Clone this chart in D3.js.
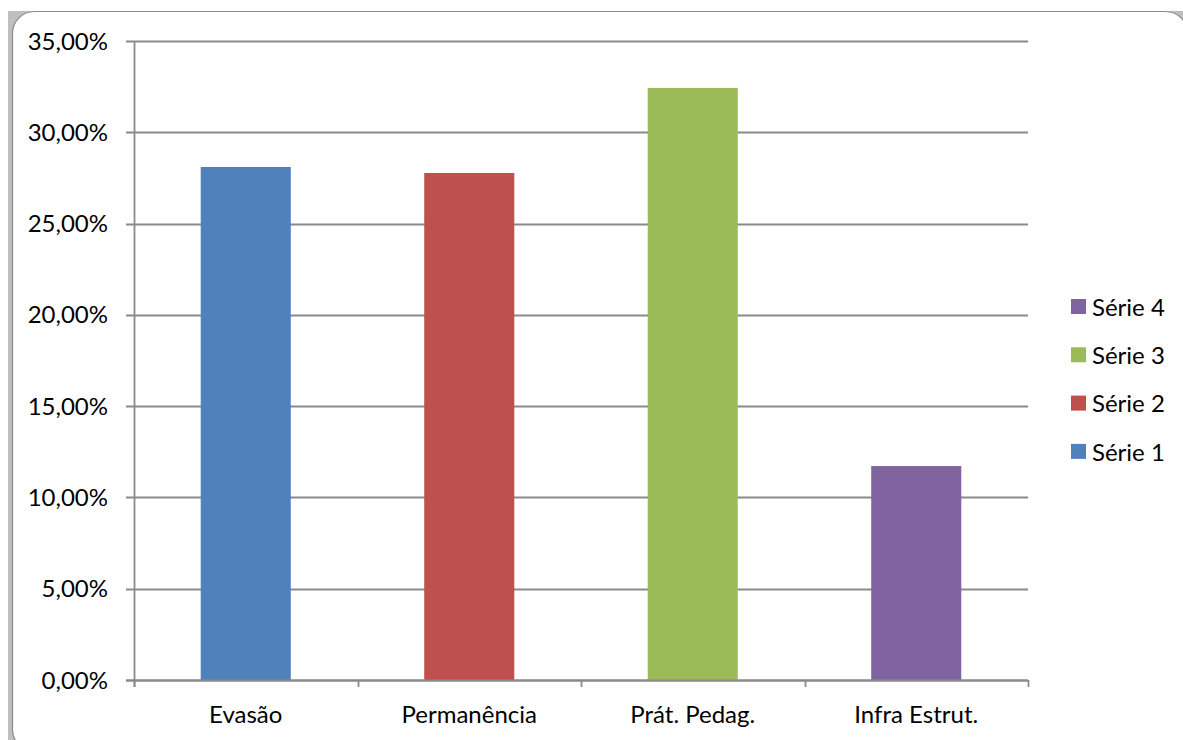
<!DOCTYPE html>
<html>
<head>
<meta charset="utf-8">
<script src="https://cdn.jsdelivr.net/npm/d3@7"></script>
<style>
  html, body { margin: 0; padding: 0; background: #ffffff; }
  svg { display: block; }
  text { font-family: Lato, "Open Sans", sans-serif; fill: #000; }
</style>
</head>
<body>
<svg id="chart" width="1183" height="740"></svg>
<script>
const categories = ["Evasão", "Permanência", "Prát. Pedag.", "Infra Estrut."];
const seriesNames = ["Série 1", "Série 2", "Série 3", "Série 4"];
const values = [0.281, 0.2777, 0.3243, 0.1172];
const colors = ["#4F81BD", "#C0504D", "#9BBB59", "#8064A2"];
const yTicks = [0, 0.05, 0.10, 0.15, 0.20, 0.25, 0.30, 0.35];

(function () {
const svg = d3.select("#chart");
const fs = 24;

// frame
svg.append("rect").attr("x", 8).attr("y", 11).attr("width", 1190).attr("height", 760).attr("fill", "#bfbfbf");
svg.append("rect").attr("x", 12.5).attr("y", 11.5).attr("width", 1175).attr("height", 740)
  .attr("rx", 22).attr("ry", 22).attr("fill", "#ffffff").attr("stroke", "#8c8c8c").attr("stroke-width", 1.2);

const pLeft = 134, pRight = 1028, pTop = 41, pBottom = 680;

const y = d3.scaleLinear().domain([0, 0.35]).range([pBottom, pTop]);
const x = d3.scaleBand().domain(categories).range([pLeft, pRight]).paddingInner(0.597).paddingOuter(0.2985);
const xb = d3.scaleLinear().domain([0, categories.length]).range([pLeft, pRight]);

const fmt = v => d3.format(".2f")(v * 100).replace(".", ",") + "%";

// gridlines + y ticks
svg.append("g").selectAll("line").data(yTicks).join("line")
  .attr("x1", pLeft - 8).attr("x2", pRight)
  .attr("y1", d => Math.round(y(d)) + 0.5).attr("y2", d => Math.round(y(d)) + 0.5)
  .attr("stroke", "#8a8a8a").attr("stroke-width", 1.8);

svg.append("g").selectAll("text").data(yTicks).join("text")
  .attr("x", 108).attr("y", d => y(d)).attr("dy", "0.36em")
  .attr("text-anchor", "end").attr("font-size", fs).text(fmt);

// bars
svg.append("g").selectAll("rect").data(values).join("rect")
  .attr("x", (d, i) => x(categories[i])).attr("width", x.bandwidth())
  .attr("y", d => y(d)).attr("height", d => y(0) - y(d))
  .attr("fill", (d, i) => colors[i]);

// y axis line
svg.append("line").attr("x1", pLeft + 0.5).attr("x2", pLeft + 0.5).attr("y1", pTop).attr("y2", pBottom + 7)
  .attr("stroke", "#8a8a8a").attr("stroke-width", 1.8);
// x axis line
svg.append("line").attr("x1", pLeft - 8).attr("x2", pRight).attr("y1", pBottom + 0.5).attr("y2", pBottom + 0.5)
  .attr("stroke", "#8a8a8a").attr("stroke-width", 1.8);
// x ticks
svg.append("g").selectAll("line").data(d3.range(categories.length + 1)).join("line")
  .attr("x1", d => Math.round(xb(d)) + 0.5).attr("x2", d => Math.round(xb(d)) + 0.5)
  .attr("y1", pBottom).attr("y2", pBottom + 7)
  .attr("stroke", "#8a8a8a").attr("stroke-width", 1.8);

// x labels
svg.append("g").selectAll("text").data(categories).join("text")
  .attr("x", d => x(d) + x.bandwidth() / 2).attr("y", 723)
  .attr("text-anchor", "middle").attr("font-size", fs).text(d => d);

// legend (reverse order)
const legendItems = seriesNames.map((s, i) => ({ name: s, color: colors[i] })).reverse();
const lg = svg.append("g").selectAll("g").data(legendItems).join("g")
  .attr("transform", (d, i) => `translate(1071, ${307 + i * 48.3})`);
lg.append("rect").attr("x", 0).attr("y", -8).attr("width", 15).attr("height", 15).attr("fill", d => d.color);
lg.append("text").attr("x", 21).attr("y", 0).attr("dy", "0.36em").attr("font-size", fs).text(d => d.name);
})();
</script>
</body>
</html>
